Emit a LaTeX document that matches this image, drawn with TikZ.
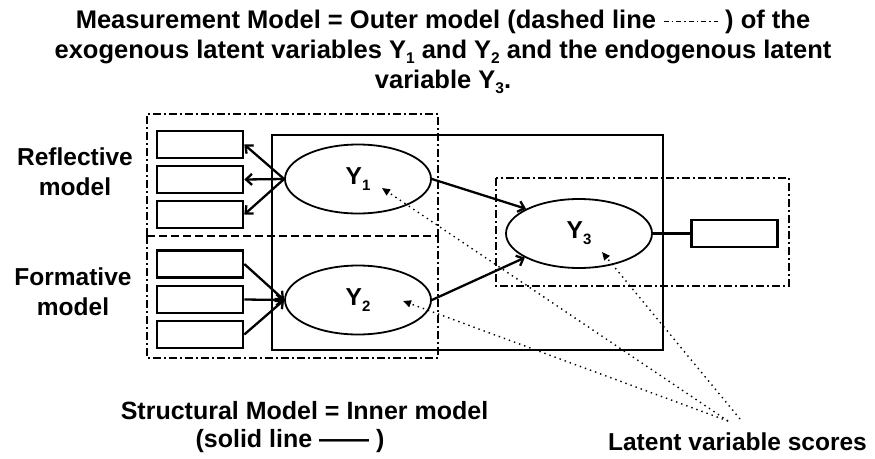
\documentclass[tikz,border=0pt]{standalone}
\usepackage{fontspec}
\setmainfont{Liberation Sans}
\usetikzlibrary{arrows.meta,shapes.geometric}
\newcommand{\mysub}[1]{\raisebox{-0.45ex}{\fontsize{15}{15}\selectfont #1}}
\newcommand{\tsub}[1]{\raisebox{-0.4ex}{\fontsize{15.5}{15.5}\selectfont #1}}
\tikzset{
  ell/.style={ellipse, draw, line width=1.8pt, fill=white, minimum width=146pt, minimum height=69pt, inner sep=0pt},
  rect/.style={rectangle, draw, line width=2.6pt, fill=white, minimum width=86pt, minimum height=27pt, inner sep=0pt},
  arr/.style={line width=2.3pt, -{Straight Barb[length=6pt,width=11pt]}},
  dd/.style={line width=1.8pt, dash pattern=on 8pt off 3pt on 2pt off 3pt},
  dsh/.style={line width=1.8pt, dash pattern=on 8pt off 4pt},
  dotarr/.style={line width=1.4pt, dash pattern=on 1.4pt off 4pt, -{Triangle[length=8pt,width=7pt]}},
  lbl/.style={align=center, inner sep=0pt}
}
\begin{document}
\begin{tikzpicture}[x=1pt,y=-1pt, font=\bfseries\fontsize{24.5}{30}\selectfont]
\useasboundingbox (0,0) rectangle (875,458);
% title
\node[lbl, font=\bfseries\fontsize{25.5}{30}\selectfont] (title) at (443,52) {Measurement Model = Outer model (dashed line \tikz[baseline=-7pt]\draw[line width=1pt, dash pattern=on 5pt off 3pt on 1.5pt off 3pt] (0pt,0pt) -- (54pt,0pt); ) of the\\exogenous latent variables Y\tsub{1} and Y\tsub{2} and the endogenous latent\\variable Y\tsub{3}.};
% boxes
\draw[line width=1.8pt] (272,135) rectangle (663,350);
\draw[dd] (147,236) -- (147,114) -- (438,114) -- (438,236);
\draw[dd] (147,236) -- (147,358) -- (438,358) -- (438,236);
\draw[dsh] (147,236) -- (438,236);
\draw[dd] (496,178) rectangle (789,286);
% latent variables
\node[ell] (Y1) at (358,179) {Y\mysub{1}};
\node[ell] (Y2) at (358,300) {Y\mysub{2}};
\node[ell] (Y3) at (579,233.5) {Y\mysub{3}};
% indicators
\node[rect] (r1) at (200,144.5) {};
\node[rect] (r2) at (200,179.5) {};
\node[rect] (r3) at (200,214.5) {};
\node[rect] (r4) at (200,264) {};
\node[rect] (r5) at (200,299.5) {};
\node[rect] (r6) at (200,334.5) {};
\node[rect] (r7) at (734.5,233.5) {};
% reflective
\draw[arr] (Y1.west) -- (r1.east);
\draw[arr] (Y1.west) -- (r2.east);
\draw[arr] (Y1.west) -- (r3.east);
% formative
\draw[arr] (r4.east) -- (Y2.west);
\draw[arr] (r5.east) -- (Y2.west);
\draw[arr] (r6.east) -- (Y2.west);
% structural
\draw[arr] (Y1.east) -- (Y3.155);
\draw[arr] (Y2.east) -- (Y3.204);
\draw[line width=2.3pt] (Y3.east) -- (r7.west);
% left labels
\node[lbl] (refl) at (75,172) {Reflective\\model};
\node[lbl] (form) at (73,292) {Formative\\model};
% latent variable scores
\coordinate (lsa) at (728,421);
\coordinate (lsb) at (740,419);
\coordinate (t1) at (382,188);
\coordinate (t2) at (403,301);
\coordinate (t3) at (602,252);
\draw[dotarr] (lsa) -- (t1);
\draw[dotarr] (lsa) -- (t2);
\draw[dotarr] (lsb) -- (t3);
\node[lbl] (lvs) at (737.5,442) {Latent variable scores};
\node[lbl, font=\bfseries\fontsize{25}{30}\selectfont] (sm1) at (304.5,411) {Structural Model = Inner model};
\node[lbl, font=\bfseries\fontsize{25}{30}\selectfont] (sm2) at (290,441) {(solid line {—}{—} )};
\end{tikzpicture}
\end{document}
